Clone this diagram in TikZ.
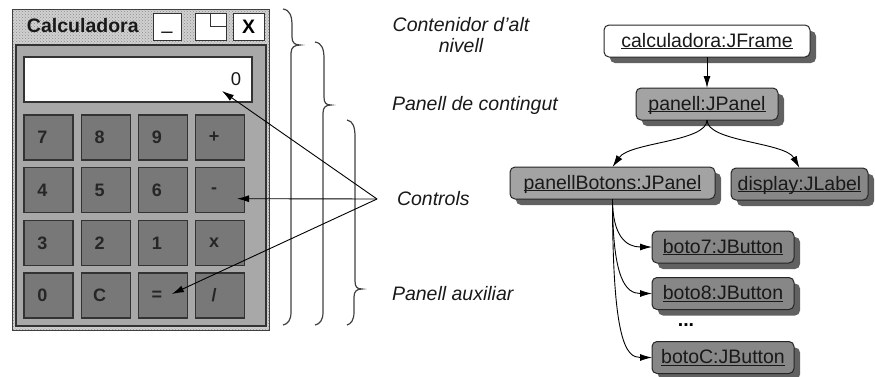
\documentclass[tikz,border=0pt]{standalone}
\usepackage{fontspec}
\setmainfont{Liberation Sans}
\usetikzlibrary{arrows.meta,patterns,shadows,calc}

% underlined object name with the rule at a fixed depth below the baseline
\newcommand\objname[1]{\setbox0\hbox{#1}\rlap{\rule[-2.4pt]{\wd0}{1pt}}\box0}

\begin{document}
\begin{tikzpicture}[x=1pt,y=-1pt,
  every node/.style={inner sep=0pt, outer sep=0pt},
  lbl/.style={font=\fontsize{19.5}{21}\selectfont\itshape, text=black!90},
  keybox/.style={draw=black!80, line width=1.2pt, fill=black!53,
    minimum width=49pt, minimum height=45pt},
  keytext/.style={font=\fontsize{18}{20}\selectfont\bfseries, text=black!85},
  tbbox/.style={draw=black!80, line width=1pt, fill=white},
  obj/.style={draw=black!85, line width=1pt, rounded corners=5pt,
    minimum height=32pt, text height=14pt, text depth=2pt,
    font=\fontsize{19.5}{22}\selectfont, text=black!90,
    drop shadow={shadow xshift=6pt, shadow yshift=-6pt, opacity=1, fill=black!62}},
  objwhite/.style={obj, fill=white},
  objpale/.style={obj, fill=black!36},
  objdark/.style={obj, fill=black!47},
  ptr/.style={-{Latex[length=12pt,width=7pt]}, line width=0.9pt, black},
  brace/.style={draw=black!75, line width=1.2pt},
]
\useasboundingbox (0,0) rectangle (875,376);

% ---------- window ----------
\fill[black!18] (12,9) rectangle (269,330);
\fill[pattern=crosshatch dots, pattern color=black!45] (12,9) rectangle (269,330);
\draw[black!75, line width=1pt] (12,9) rectangle (269,330);
\node[font=\fontsize{19.5}{22}\selectfont\bfseries, text=black!90, anchor=base west]
  (title) at (27,32) {Calculadora};

% title bar buttons
\node[tbbox, minimum width=28pt, minimum height=27pt] (bmin) at (167,26.5) {};
\node[font=\fontsize{19.5}{22}\selectfont, anchor=base] at (167,29) {\_};
\node[tbbox, minimum width=31pt, minimum height=27pt] (bmax) at (210.5,26.5) {};
\draw[black!80, line width=1pt] (bmax.north) |- (bmax.east);
\node[tbbox, minimum width=31pt, minimum height=27pt,
  font=\fontsize{19.5}{22}\selectfont\bfseries] (bclose) at (248.5,26.5) {X};

% content panel
\draw[black!80, line width=1.2pt, fill=black!34] (16,45) rectangle (266,326);

% display
\node[draw=black!80, line width=1.2pt, fill=white, minimum width=228pt,
  minimum height=45pt] (disp) at (138,79.5) {};
\node[font=\fontsize{18.5}{20}\selectfont, text=black!90] (zero) at (236,79) {0};

% keypad
\foreach \lab [count=\i from 0] in {7,8,9,+,4,5,6,-,3,2,1,x,0,C,=,/} {
  \pgfmathtruncatemacro\r{int(\i/4)}
  \pgfmathtruncatemacro\c{mod(\i,4)}
  \node[keybox] (k\i) at ({48.5+57.17*\c},{137.5+52.67*\r}) {};
  \node[keytext] at ($(k\i)+(-6,0)$) {\lab};
}

% ---------- braces ----------
\draw[brace] (283,9) .. controls (290,10) and (292,16) .. (292,26) -- (292,37)
  .. controls (292,43) and (295,45) .. (300,45)
  .. controls (295,45) and (291,47) .. (291,53) -- (291,312)
  .. controls (291,320) and (288,324) .. (283,325);
\draw[brace] (315,42) .. controls (322,43) and (324,49) .. (324,59) -- (324,97)
  .. controls (324,103) and (326,105) .. (331,105)
  .. controls (326,105) and (323,107) .. (323,113) -- (323,312)
  .. controls (323,320) and (320,324) .. (315,325);
\draw[brace] (347,120) .. controls (353,121) and (355,127) .. (355,137) -- (355,281)
  .. controls (355,287) and (357,289) .. (362,289)
  .. controls (357,289) and (354,291) .. (354,297) -- (354,312)
  .. controls (354,320) and (351,324) .. (347,325);

% ---------- labels ----------
\node[lbl, align=center, anchor=north] (lcont) at (461,17.5) {Contenidor d{\char"27}alt\\nivell};
\node[lbl, anchor=base west] (lpanell) at (392,110) {Panell de contingut};
\node[lbl, anchor=base west] (lctrl) at (397,205) {Controls};
\node[lbl, anchor=base west] (laux) at (392,300) {Panell auxiliar};

% pointers from "Controls"
\coordinate (cpt) at (377,199);
\coordinate (tipdisp) at ($(disp)+(84,11.5)$);
\coordinate (tipminus) at ($(k7)+(17,8.5)$);
\coordinate (tipeq) at ($(k14)+(9,-1.5)$);
\draw[ptr] (cpt) -- (tipdisp);
\draw[ptr] (cpt) -- (tipminus);
\draw[ptr] (cpt) -- (tipeq);

% ---------- containment tree ----------
\node[objwhite, minimum width=206pt] (frm) at (707,41) {\objname{calculadora:JFrame}};
\node[objpale, minimum width=142pt] (pnl) at (707,104) {\objname{panell:JPanel}};
\node[objpale, minimum width=205pt] (pb) at (612.5,183) {\objname{panellBotons:JPanel}};
\node[objdark, minimum width=137pt] (dl) at (799.5,184) {\objname{display:JLabel}};
\node[objdark, minimum width=142pt] (b7) at (723,247) {\objname{boto7:JButton}};
\node[objdark, minimum width=142pt] (b8) at (723,293.5) {\objname{boto8:JButton}};
\node[font=\fontsize{19.5}{22}\selectfont\bfseries] (more) at (686,325) {...};
\node[objdark, minimum width=142pt] (bc) at (723,357.5) {\objname{botoC:JButton}};

\draw[ptr] (frm) -- (pnl);
\draw[ptr] (pnl.south) .. controls (707,142) and (630,142) .. (pb.north);
\draw[ptr] (pnl.south) .. controls (707,142) and (785,142) .. (dl.north);
\draw[ptr] (pb.south) .. controls (612.5,236) and (626,247) .. (b7.west);
\draw[ptr] (pb.south) .. controls (612.5,280) and (626,293.5) .. (b8.west);
\draw[ptr] (pb.south) .. controls (612.5,342) and (626,357.5) .. (bc.west);
\end{tikzpicture}
\end{document}
